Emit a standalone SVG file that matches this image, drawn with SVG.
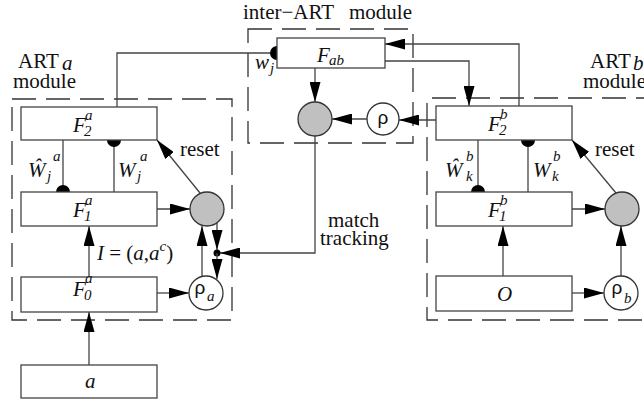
<svg xmlns="http://www.w3.org/2000/svg" width="644" height="400" viewBox="0 0 644 400">
<defs>
<marker id="ah" markerUnits="userSpaceOnUse" markerWidth="20" markerHeight="11" refX="20" refY="5.5" orient="auto"><path d="M0,0L20,5.5L0,11z" fill="#000"/></marker>
<style>
.box{fill:#fff;stroke:#444;stroke-width:1.3}
.dash{fill:none;stroke:#333;stroke-width:1.3;stroke-dasharray:24 10}
.ln{fill:none;stroke:#444;stroke-width:1.3}
.arr{marker-end:url(#ah)}
.gc{fill:#c0c0c0;stroke:#333;stroke-width:1.3}
.wc{fill:#fff;stroke:#333;stroke-width:1.3}
.semi{fill:#000;stroke:none}
text{font-family:"Liberation Serif",serif;font-size:21px;fill:#111}
.it{font-style:italic}
.sm{font-size:15px}
.rho{font-family:"Liberation Sans","DejaVu Sans",sans-serif;font-size:19px}
</style>
</defs>
<rect width="644" height="400" fill="#fff"/>

<g id="modules">
<rect class="dash" x="12" y="99" width="220" height="221"/>
<rect class="dash" x="248" y="29" width="165" height="114"/>
<path class="dash" d="M660,98H427V320H660"/>
<text x="243" y="19">inter−ART</text><text x="349" y="19">module</text>
<text x="18" y="68">ART</text><text class="it" x="62" y="70">a</text>
<text x="13" y="88">module</text>
<text x="590" y="68">ART</text><text class="it" x="633" y="70">b</text>
<text x="583" y="88">module</text>
</g>

<g id="connectors">
<path class="ln" d="M117,107V53H277"/>
<path class="semi" d="M277,46A7,7 0 0 0 277,60Z"/>
<path class="ln arr" d="M315,68V102"/>
<path class="ln arr" d="M367,119H332"/>
<path class="ln arr" d="M436,120H399"/>
<path class="ln arr" d="M519,106V44H385"/>
<path class="ln arr" d="M385,61H469V106"/>
<path class="ln arr" d="M315,136V253H220"/>
<circle cx="217" cy="253" r="3.5" fill="#000"/>
<path class="ln arr" d="M217,223V250"/>
<path class="ln arr" d="M217,253V279"/>
<path class="ln arr" d="M202,276V226"/>
<path class="ln arr" d="M157,209H190"/>
<path class="ln arr" d="M200,193L157,140"/>
<path class="ln arr" d="M89,277V226"/>
<path class="ln arr" d="M89,365V312"/>
<path class="ln arr" d="M157,293H189"/>
<path class="ln" d="M63,140V192"/>
<path class="semi" d="M56,192A7,7 0 0 1 70,192Z"/>
<path class="ln" d="M114,140V192"/>
<path class="semi" d="M107,140A7,7 0 0 0 121,140Z"/>
<path class="ln" d="M478,140V192"/>
<path class="semi" d="M471,192A7,7 0 0 1 485,192Z"/>
<path class="ln" d="M528,140V192"/>
<path class="semi" d="M521,140A7,7 0 0 0 535,140Z"/>
<path class="ln arr" d="M572,209H605"/>
<path class="ln arr" d="M616,193L572,140"/>
<path class="ln arr" d="M503,276V226"/>
<path class="ln arr" d="M621,276V226"/>
<path class="ln arr" d="M572,293H604"/>
<text x="180" y="156">reset</text>
<text x="595" y="156">reset</text>
<text x="328" y="227">match</text>
<text x="320" y="245">tracking</text>
<text x="97" y="260"><tspan class="it">I</tspan> = (<tspan class="it">a</tspan>,<tspan class="it">a</tspan><tspan class="it sm" dy="-9">c</tspan><tspan dy="9">)</tspan></text>
<text class="it" x="28" y="177">Ŵ</text><text class="it sm" x="47" y="181">j</text><text class="it sm" x="53" y="161">a</text>
<text class="it" x="118" y="177">W</text><text class="it sm" x="137" y="181">j</text><text class="it sm" x="140" y="161">a</text>
<text class="it" x="445" y="177">Ŵ</text><text class="it sm" x="466" y="181">k</text><text class="it sm" x="466" y="161">b</text>
<text class="it" x="533" y="177">W</text><text class="it sm" x="552" y="181">k</text><text class="it sm" x="553" y="161">b</text>
<text class="it" x="255" y="69">w</text><text class="it sm" x="270" y="73">j</text>
</g>

<g id="F2a"><rect class="box" x="21" y="107" width="136" height="33"/><text class="it" x="73" y="132">F</text><text class="it sm" x="84" y="136">2</text><text class="it sm" x="85" y="120">a</text></g>
<g id="F1a"><rect class="box" x="21" y="192" width="136" height="34"/><text class="it" x="73" y="217">F</text><text class="it sm" x="84" y="221">1</text><text class="it sm" x="85" y="205">a</text></g>
<g id="F0a"><rect class="box" x="21" y="277" width="136" height="35"/><text class="it" x="73" y="296">F</text><text class="it sm" x="84" y="300">0</text><text class="it sm" x="85" y="283">a</text></g>
<g id="input-a"><rect class="box" x="21" y="365" width="136" height="33"/><text class="it" x="85" y="388">a</text></g>
<g id="resetA"><circle class="gc" cx="207" cy="209" r="17"/></g>
<g id="rhoA"><circle class="wc" cx="206" cy="293" r="17"/><text class="rho" x="200" y="294" text-anchor="middle">ρ</text><text class="it sm" x="207" y="301">a</text></g>

<g id="Fab"><rect class="box" x="277" y="38" width="108" height="30"/><text class="it" x="317" y="62">F</text><text class="it sm" x="329" y="65">ab</text></g>
<g id="mapField"><circle class="gc" cx="315" cy="119" r="17"/></g>
<g id="rhoAB"><circle class="wc" cx="383" cy="119" r="16"/><text class="rho" x="383" y="124" text-anchor="middle">ρ</text></g>

<g id="F2b"><rect class="box" x="436" y="106" width="136" height="34"/><text class="it" x="488" y="131">F</text><text class="it sm" x="499" y="135">2</text><text class="it sm" x="500" y="119">b</text></g>
<g id="F1b"><rect class="box" x="436" y="192" width="136" height="34"/><text class="it" x="488" y="217">F</text><text class="it sm" x="499" y="221">1</text><text class="it sm" x="500" y="205">b</text></g>
<g id="O"><rect class="box" x="436" y="276" width="136" height="35"/><text class="it" x="497" y="301">O</text></g>
<g id="resetB"><circle class="gc" cx="622" cy="209" r="17"/></g>
<g id="rhoB"><circle class="wc" cx="621" cy="293" r="17"/><text class="rho" x="617" y="294" text-anchor="middle">ρ</text><text class="it sm" x="624" y="303">b</text></g>
</svg>
